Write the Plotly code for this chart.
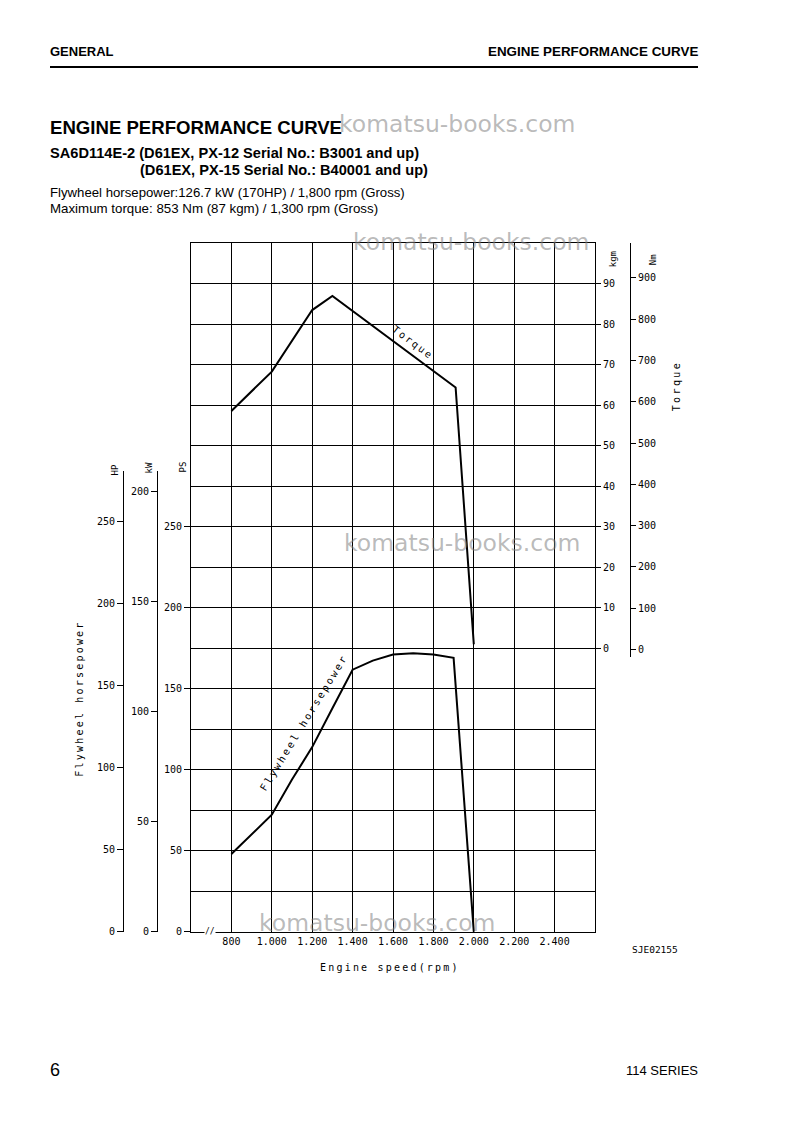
import plotly.graph_objects as go

# ---------------- data ----------------
rpm_ticks = [600, 800, 1000, 1200, 1400, 1600, 1800, 2000, 2200, 2400, 2600]
rpm_tick_text = ["", "800", "1.000", "1.200", "1.400", "1.600", "1.800", "2.000", "2.200", "2.400", ""]

torque_rpm = [800, 1000, 1200, 1300, 1910, 2000]
torque_kgm = [58.6, 68.3, 83.5, 87.0, 64.4, 1.0]

power_rpm = [800, 1000, 1100, 1200, 1300, 1400, 1500, 1600, 1700, 1800, 1900, 2000]
power_ps = [48.0, 72.3, 94.0, 114.0, 138.0, 161.8, 167.4, 171.1, 171.9, 171.1, 169.1, 0.0]

ps_ticks = [0, 50, 100, 150, 200, 250]
hp_ticks = [0, 50, 100, 150, 200, 250]
kw_ticks = [0, 50, 100, 150, 200]
kgm_ticks = [0, 10, 20, 30, 40, 50, 60, 70, 80, 90]
nm_ticks = [0, 100, 200, 300, 400, 500, 600, 700, 800, 900]
ps_grid = list(range(0, 426, 25))

# ---------------- page geometry helpers ----------------
W, H = 793, 1123
H_EFF = 1116.0  # effective rendered height used for vertical placement
def px(x):
    return x / W
def py(y):
    return 1 - y / H_EFF

PS_PER_HP = 1.01387
PS_PER_KW = 1.35962
PX_PER_PS = (931 - 243) / 425.0
PX_PER_KGM = (931 - 243) / 170.0
PX_PER_NM = PX_PER_KGM / 9.80665

MONO = "DejaVu Sans Mono"
SANS = "Liberation Sans, Arial, sans-serif"
tickfont = dict(family=MONO, size=10, color="black")

fig = go.Figure()

# curves
fig.add_trace(go.Scatter(x=torque_rpm, y=torque_kgm, xaxis="x", yaxis="y5", mode="lines",
                         line=dict(color="black", width=2), showlegend=False, hoverinfo="skip"))
fig.add_trace(go.Scatter(x=power_rpm, y=power_ps, xaxis="x", yaxis="y", mode="lines",
                         line=dict(color="black", width=2), showlegend=False, hoverinfo="skip"))
# empty traces to register the auxiliary scales
for ax in ["y2", "y3", "y4", "y6"]:
    fig.add_trace(go.Scatter(x=[None], y=[None], xaxis="x", yaxis=ax, mode="lines",
                             showlegend=False, hoverinfo="skip"))

dom_main = [py(931), py(243)]
dom_hp = [py(931), py(471)]
dom_nm = [py(656), py(243)]

fig.update_layout(
    width=W, height=H, margin=dict(l=0, r=0, t=0, b=0),
    paper_bgcolor="white", plot_bgcolor="rgba(0,0,0,0)",
    xaxis=dict(domain=[px(191), px(595)], range=[600, 2600], tickmode="array",
               tickvals=rpm_ticks, ticktext=rpm_tick_text, showgrid=True, gridcolor="black",
               gridwidth=1, showline=True, mirror=True, linecolor="black", linewidth=1,
               ticks="", tickfont=tickfont, zeroline=False, anchor="y"),
    yaxis=dict(domain=dom_main, range=[0, 425], tickmode="array", tickvals=ps_grid,
               showticklabels=False, showgrid=True, gridcolor="black", gridwidth=1,
               showline=True, mirror=True, linecolor="black", linewidth=1, ticks="",
               zeroline=False, anchor="x"),
    yaxis2=dict(overlaying="y", anchor="x", side="left", range=[0, 425], tickmode="array",
                tickvals=ps_ticks, ticks="outside", ticklen=6, tickcolor="black",
                showgrid=False, showline=False, zeroline=False, tickfont=tickfont),
    yaxis3=dict(domain=dom_hp, anchor="free", position=px(123), side="left",
                range=[0, (931 - 471) / (PX_PER_PS * PS_PER_HP)], tickmode="array",
                tickvals=hp_ticks, ticks="outside", ticklen=6, tickcolor="black",
                showgrid=False, showline=True, linecolor="black", linewidth=1,
                zeroline=False, tickfont=tickfont),
    yaxis4=dict(domain=dom_hp, anchor="free", position=px(157), side="left",
                range=[0, (931 - 471) / (PX_PER_PS * PS_PER_KW)], tickmode="array",
                tickvals=kw_ticks, ticks="outside", ticklen=6, tickcolor="black",
                showgrid=False, showline=True, linecolor="black", linewidth=1,
                zeroline=False, tickfont=tickfont),
    yaxis5=dict(overlaying="y", anchor="x", side="right", range=[-70, 100], tickmode="array",
                tickvals=kgm_ticks, ticks="outside", ticklen=5, tickcolor="black",
                showgrid=False, showline=False, zeroline=False, tickfont=tickfont),
    yaxis6=dict(domain=dom_nm, anchor="free", position=px(630), side="right",
                range=[-(656 - 649) / PX_PER_NM, (649 - 243) / PX_PER_NM], tickmode="array",
                tickvals=nm_ticks, ticks="outside", ticklen=5, tickcolor="black",
                showgrid=False, showline=True, linecolor="black", linewidth=1,
                zeroline=False, tickfont=tickfont),
)

ann = []
def text(x, y, s, size=12, family=SANS, xanchor="center", yanchor="middle", angle=0,
         color="black", bg=None):
    d = dict(x=px(x), y=py(y), xref="paper", yref="paper", text=s, showarrow=False,
             xanchor=xanchor, yanchor=yanchor, textangle=angle,
             font=dict(family=family, size=size, color=color))
    if bg:
        d["bgcolor"] = bg
        d["borderpad"] = 0
    ann.append(d)

def spaced(s, sp):
    return '<span style="letter-spacing:%spx">%s</span>' % (sp, s)

# header / footer
text(48, 51, "<b>GENERAL</b>", 13, xanchor="left")
text(700, 51, "<b>ENGINE PERFORMANCE CURVE</b>", 13.4, xanchor="right")
text(48, 127, "<b>ENGINE PERFORMANCE CURVE</b>", 18.6, xanchor="left")
text(48, 153, "<b>SA6D114E-2 (D61EX, PX-12 Serial No.: B3001 and up)</b>", 14.6, xanchor="left")
text(138, 170, "<b>(D61EX, PX-15 Serial No.: B40001 and up)</b>", 14.6, xanchor="left")
text(48, 192, "Flywheel horsepower:126.7 kW (170HP) / 1,800 rpm (Gross)", 13.2, xanchor="left")
text(48, 208, "Maximum torque: 853 Nm (87 kgm) / 1,300 rpm (Gross)", 13.3, xanchor="left")
text(48, 1069, "6", 18, xanchor="left")
text(700, 1070, "114 SERIES", 13, xanchor="right")

# axis titles and unit labels
text(80, 698, spaced("Flywheel horsepower", 2.2), 10, MONO, angle=-90)
text(390, 967, spaced("Engine speed(rpm)", 2.2), 10, MONO)
text(676, 386, spaced("Torque", 2.4), 10, MONO, angle=-90)
text(115, 470, "HP", 9, MONO, angle=-90)
text(149, 468, "kW", 9, MONO, angle=-90)
text(183, 467, "PS", 9, MONO, angle=-90)
text(613, 259, "kgm", 9, MONO, angle=-90)
text(653, 260, "Nm", 9, MONO, angle=-90)
text(655, 949, "SJE02155", 9.5, MONO)
text(210, 931, "//", 8, MONO, bg="white")

# curve labels
text(413, 342, spaced("Torque", 2), 10, MONO, angle=37)
text(304, 722, spaced("Flywheel horsepower", 2.3), 10, MONO, angle=-58.5)

# watermarks
wm = "rgba(128,128,128,0.55)"
for (cx, cy) in [(457, 124), (471, 242), (462, 543), (377, 922)]:
    text(cx, cy, "komatsu-books.com", 23.5, "DejaVu Sans", color=wm)

fig.update_layout(annotations=ann)
fig.add_shape(type="line", xref="paper", yref="paper", x0=px(50), x1=px(698), y0=py(67), y1=py(67),
              line=dict(color="black", width=2))

fig.write_html("out.html")
